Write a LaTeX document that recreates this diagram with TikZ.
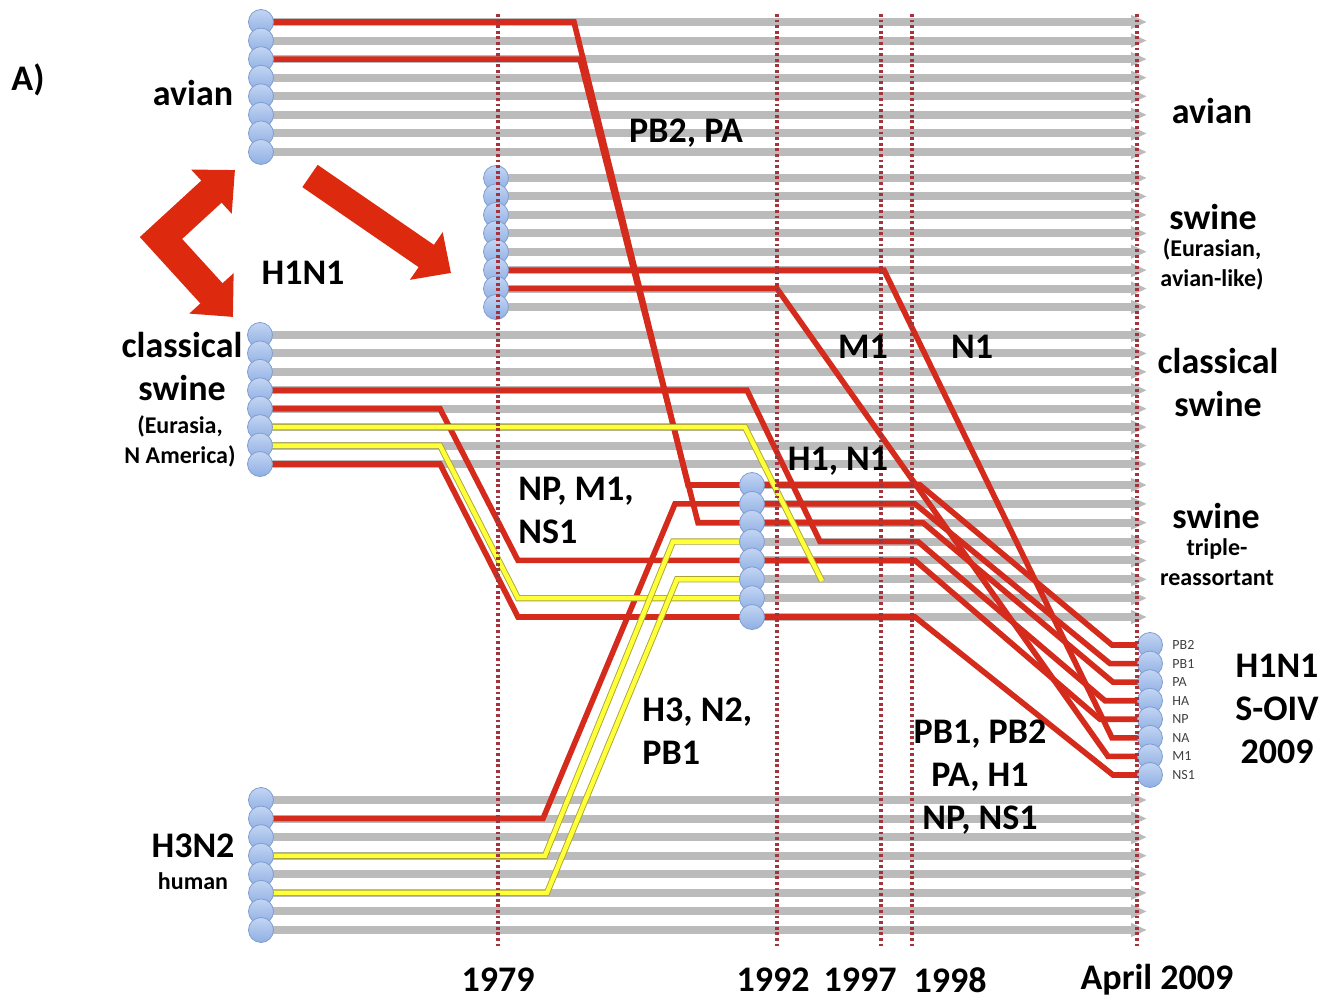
\documentclass[tikz,border=0pt]{standalone}
\usepackage{fontspec}
\setmainfont{Carlito}
\usetikzlibrary{arrows.meta, calc, positioning}
\definecolor{fluRed}{HTML}{D42B1D}
\definecolor{fluArrow}{HTML}{DD2A0F}
\definecolor{fluYellow}{HTML}{FFFF3A}
\definecolor{fluOlive}{HTML}{A9A43A}
\definecolor{fluGray}{HTML}{BBBBBB}
\definecolor{fluDot}{HTML}{A5333B}
\definecolor{fluBlueTop}{HTML}{C3D5F3}
\definecolor{fluBlueBot}{HTML}{8FAFE3}
\definecolor{fluBlueEdge}{HTML}{7F9DD0}
\definecolor{fluText}{HTML}{404040}

\begin{document}
\begin{tikzpicture}[
    x=0.5pt, y=-0.5pt,
    segment/.style={
        circle, inner sep=0pt, minimum size=12.5pt,
        draw=fluBlueEdge, line width=0.4pt,
        top color=fluBlueTop, bottom color=fluBlueBot
    },
    lineage/.style={draw=fluGray, line width=4pt, -{Triangle[length=8pt, width=6.5pt]}},
    redline/.style={draw=fluRed, line width=2.8pt, line join=miter},
    yelline/.style={draw=fluOlive, double=fluYellow, double distance=2.2pt, line width=0.45pt},
    yearline/.style={draw=fluDot, line width=1.8pt, dash pattern=on 1.4pt off 1.4pt},
    bigarrow/.style={draw=fluArrow, line width=15pt, line join=miter},
    lbl/.style={font=\bfseries\fontsize{18}{21.5}\selectfont, align=center, inner sep=0pt},
    sublbl/.style={font=\bfseries\fontsize{12}{15}\selectfont, align=center, inner sep=0pt},
    seglbl/.style={font=\fontsize{7}{8}\selectfont, text=fluText, anchor=west, inner sep=0pt}
]
\useasboundingbox (0,0) rectangle (1334,1000);

% segment positions of each lineage
\foreach \i in {1,...,8}{
    \coordinate (av\i) at (261, {22+(\i-1)*18.57});
    \coordinate (eu\i) at (496, {178+(\i-1)*18.43});
    \coordinate (cl\i) at (260, {335+(\i-1)*18.43});
    \coordinate (tr\i) at (752, {485+(\i-1)*18.86});
    \coordinate (hu\i) at (261, {800+(\i-1)*18.57});
    \coordinate (fi\i) at (1150, {645+(\i-1)*18.57});
}

% gray lineage bars
\foreach \g in {av,eu,cl,tr,hu}{
    \foreach \i in {1,...,8}
        \draw[lineage] (\g\i) -- (\g\i -| 1147,0);
}

% red segment transfers
\draw[redline] (av1) -- (av1 -| 574,0) -- (tr1 -| 688,0) -- (tr1 -| 920,0) -- (fi1 -| 1112,0) -- (fi1);
\draw[redline] (av3) -- (av3 -| 580,0) -- (tr3 -| 698,0) -- (tr3 -| 923,0) -- (fi3 -| 1113,0) -- (fi3);
\draw[redline] (hu2) -- (hu2 -| 543,0) -- (tr2 -| 675,0) -- (tr2 -| 915,0) -- (fi2 -| 1110,0) -- (fi2);
\draw[redline] (cl4) -- (cl4 -| 747,0) -- (tr4 -| 820,0) -- (tr4 -| 918,0) -- (fi4 -| 1105,0) -- (fi4);
\draw[redline] (cl5) -- (cl5 -| 440,0) -- (tr5 -| 518,0) -- (tr5 -| 915,0) -- (fi5 -| 1100,0) -- (fi5);
\draw[redline] (eu6) -- (eu6 -| 884,0) -- (fi6 -| 1112,0) -- (fi6);
\draw[redline] (eu7) -- (eu7 -| 777,0) -- (fi7 -| 1108,0) -- (fi7);
\draw[redline] (cl8) -- (cl8 -| 440,0) -- (tr8 -| 518,0) -- (tr8 -| 915,0) -- (fi8 -| 1113,0) -- (fi8);

% yellow segment transfers
\coordinate (n1end) at (822,581);
\draw[yelline] (cl6) -- (cl6 -| 745,0) -- (n1end);
\draw[yelline] (cl7) -- (cl7 -| 440,0) -- (tr7 -| 518,0) -- (tr7);
\draw[yelline] (hu4) -- (hu4 -| 545,0) -- (tr4 -| 673,0) -- (tr4);
\draw[yelline] (hu6) -- (hu6 -| 547,0) -- (tr6 -| 677,0) -- (tr6);

% segment balls
\foreach \g in {av,eu,cl,tr,hu,fi}{
    \foreach \i in {1,...,8}
        \node[segment] (\g c\i) at (\g\i) {};
}
\foreach \s [count=\i] in {PB2,PB1,PA,HA,NP,NA,M1,NS1}
    \node[seglbl] (fl\i) at ($(fi\i)+(22,0)$) {\s};

% host jump arrows
\coordinate (swapTop) at (235,170);
\coordinate (swapMid) at (161,238);
\coordinate (swapBot) at (233,317);
\draw[bigarrow, {Triangle[length=16pt, width=29pt]}-{Triangle[length=16pt, width=29pt]}] (swapTop) -- (swapMid) -- (swapBot);
\coordinate (jumpStart) at (310,176);
\coordinate (jumpTip) at (451,273);
\draw[bigarrow, line width=13.5pt, -{Triangle[length=15pt, width=28pt]}] (jumpStart) -- (jumpTip);

% year lines
\foreach \yr/\x in {1979/498, 1992/777, 1997/881, 1998/912, 2009/1137}{
    \coordinate (top\yr) at (\x,14);
    \coordinate (bot\yr) at (\x,948);
    \draw[yearline] (top\yr) -- (bot\yr);
}

% labels
\node[lbl] (panel) at (28,80) {A)};
\node[lbl] (avianL) at (193,93) {avian};
\node[lbl] (hostH1N1) at (303,273) {H1N1};
\node[lbl] (classL) at (182,367) {classical\\swine};
\node[sublbl] (classLsub) at (180,441) {(Eurasia,\\N America)};
\node[lbl] (hostH3N2) at (193,846) {H3N2};
\node[sublbl] (human) at (193,881) {human};
\node[lbl] (pbpa) at (686,133) {PB2, PA};
\node[lbl] (avianR) at (1212,111) {avian};
\node[lbl] (eurR) at (1213,217) {swine};
\node[sublbl] (eurRsub) at (1212,264) {(Eurasian,\\avian-like)};
\node[lbl] (classR) at (1218,383) {classical\\swine};
\node[lbl] (mone) at (863,347) {M1};
\node[lbl] (none) at (972,347) {N1};
\node[lbl] (hanaone) at (838,461) {H1, N1};
\node[lbl, anchor=west, align=left] (npm) at (518,510) {NP, M1,\\NS1};
\node[lbl] (tripR) at (1216,516) {swine};
\node[sublbl] (tripRsub) at (1217,562) {triple-\\reassortant};
\node[lbl, anchor=west, align=left] (hthree) at (642,731) {H3, N2,\\PB1};
\node[lbl] (pbone) at (980,777) {PB1, PB2\\PA, H1\\NP, NS1};
\node[lbl] (soiv) at (1277,709) {H1N1\\S-OIV\\2009};
\foreach \yr/\x [count=\k] in {1979/498, 1992/773, 1997/860, 1998/950, April 2009/1157}
    \node[lbl] (year\k) at (\x,980) {\yr};
\end{tikzpicture}
\end{document}
